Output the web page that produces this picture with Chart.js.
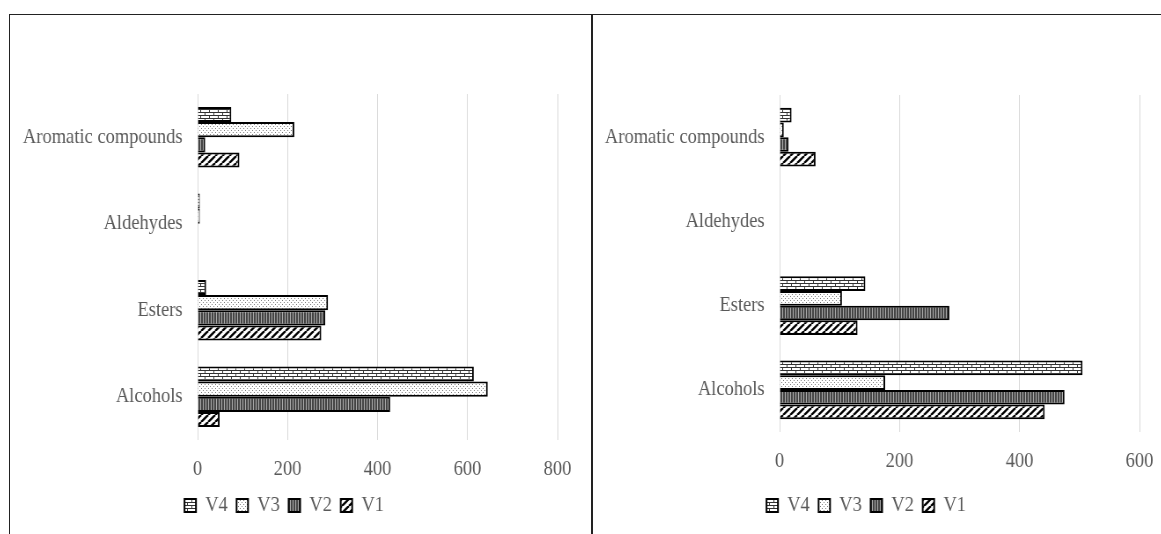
<!DOCTYPE html>
<html>
<head>
<meta charset="utf-8">
<script src="https://cdn.jsdelivr.net/npm/chart.js@4"></script>
<style>
  body { margin: 0; background: #fff; width: 1161px; height: 534px; overflow: hidden; position: relative; }
  #frame { position: absolute; left: 9px; top: 14px; width: 1152px; height: 520px; border-top: 1.5px solid #222; border-left: 1.5px solid #222; }
  #divider { position: absolute; left: 591px; top: 14px; width: 1.5px; height: 520px; background: #222; }
  /* the source text is tall and narrow, so each chart is drawn wider and squeezed */
  .box { position: absolute; top: 16px; height: 518px; transform: scaleX(0.88); transform-origin: 0 0; }
  #leftBox { left: 11px; width: 659px; }
  #rightBox { left: 593px; width: 645px; }
</style>
</head>
<body>
<div id="frame"></div>
<div id="divider"></div>
<div class="box" id="leftBox"><canvas id="leftChart"></canvas></div>
<div class="box" id="rightBox"><canvas id="rightChart"></canvas></div>
<script>
// categories top to bottom as drawn
const categories = ['Aromatic compounds', 'Aldehydes', 'Esters', 'Alcohols'];
const seriesNames = ['V4', 'V3', 'V2', 'V1'];

// left panel
const leftV4 = [75, 5, 19, 614];
const leftV3 = [215, 5, 290, 645];
const leftV2 = [17, 0, 284, 428];
const leftV1 = [93, 0, 275, 49];
const leftTicks = [0, 200, 400, 600, 800];

// right panel
const rightV4 = [20, 0, 143, 505];
const rightV3 = [7, 0, 104, 176];
const rightV2 = [15, 0, 283, 475];
const rightV1 = [60, 0, 130, 442];
const rightTicks = [0, 200, 400, 600];

function makePattern(kind) {
    const c = document.createElement('canvas');
    const g = c.getContext('2d');
    if (kind === 'brick') {
        c.width = 10; c.height = 6;
        g.fillStyle = '#fff'; g.fillRect(0, 0, 10, 6);
        g.fillStyle = '#333';
        g.fillRect(0, 0, 10, 1);
        g.fillRect(0, 3, 10, 1);
        g.fillRect(0, 0, 1, 3);
        g.fillRect(5, 3, 1, 3);
    } else if (kind === 'dots') {
        c.width = 4; c.height = 4;
        g.fillStyle = '#fff'; g.fillRect(0, 0, 4, 4);
        g.fillStyle = '#777';
        g.fillRect(0, 0, 1, 1);
        g.fillRect(2, 2, 1, 1);
    } else if (kind === 'vlines') {
        c.width = 3; c.height = 1;
        g.fillStyle = '#444'; g.fillRect(0, 0, 3, 1);
        g.fillStyle = '#aaa'; g.fillRect(2, 0, 1, 1);
    } else {
        c.width = 8; c.height = 7;
        g.fillStyle = '#fff'; g.fillRect(0, 0, 8, 7);
        g.strokeStyle = '#000'; g.lineWidth = 2.4;
        g.beginPath();
        g.moveTo(0, 7); g.lineTo(8, 0);
        g.moveTo(-8, 7); g.lineTo(0, 0);
        g.moveTo(8, 7); g.lineTo(16, 0);
        g.stroke();
    }
    return g.createPattern(c, 'repeat');
}

const fills = [makePattern('brick'), makePattern('dots'), makePattern('vlines'), makePattern('diag')];
const textColor = '#595959';
const fontFamily = '"Liberation Serif", "Times New Roman", serif';

function buildChart(id, seriesData, ticks, max, pad, xHeight) {
    const ctx = document.getElementById(id).getContext('2d');
    return new Chart(ctx, {
        type: 'bar',
        data: {
            labels: categories,
            datasets: seriesData.map((d, i) => ({
                label: seriesNames[i],
                data: d,
                backgroundColor: fills[i],
                borderColor: '#000',
                borderWidth: 2,
                categoryPercentage: 0.7,
                barPercentage: 1.0
            }))
        },
        options: {
            indexAxis: 'y',
            responsive: true,
            maintainAspectRatio: false,
            animation: false,
            layout: { padding: pad },
            plugins: {
                legend: {
                    position: 'bottom',
                    labels: {
                        color: textColor,
                        font: { family: fontFamily, size: 21 },
                        boxWidth: 13,
                        boxHeight: 13,
                        padding: 10
                    }
                },
                tooltip: { enabled: false }
            },
            scales: {
                x: {
                    min: 0,
                    max: max,
                    afterBuildTicks: (scale) => { scale.ticks = ticks.map(v => ({ value: v })); },
                    afterFit: (scale) => { scale.height = xHeight; },
                    grid: { color: '#d9d9d9', tickLength: 15, tickColor: 'rgba(0,0,0,0)' },
                    border: { display: false },
                    ticks: { color: textColor, font: { family: fontFamily, size: 21 }, padding: 2 }
                },
                y: {
                    afterFit: (scale) => { scale.width = 212; },
                    grid: { display: false, drawTicks: false },
                    border: { display: false },
                    ticks: { color: textColor, font: { family: fontFamily, size: 21 }, padding: 17 }
                }
            }
        }
    });
}

buildChart('leftChart', [leftV4, leftV3, leftV2, leftV1], leftTicks, 800,
    { top: 78, bottom: 8, left: 0, right: 38 }, 45);
buildChart('rightChart', [rightV4, rightV3, rightV2, rightV1], rightTicks, 600,
    { top: 79, bottom: 8, left: 0, right: 24 }, 53);
</script>
</body>
</html>
